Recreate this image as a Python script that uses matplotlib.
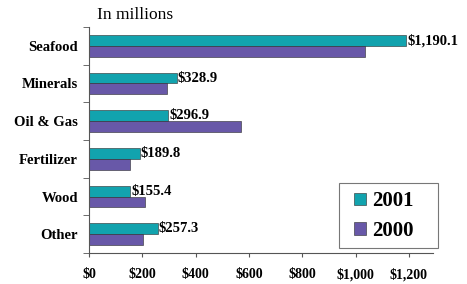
import matplotlib
matplotlib.use("Agg")
import matplotlib.pyplot as plt
from matplotlib.patches import Rectangle
import numpy as np

categories = ["Seafood", "Minerals", "Oil & Gas", "Fertilizer", "Wood", "Other"]
values_2001 = [1190.1, 328.9, 296.9, 189.8, 155.4, 257.3]
values_2000 = [1035, 292, 570, 154, 210, 203]
value_labels = ["$1,190.1", "$328.9", "$296.9", "$189.8", "$155.4", "$257.3"]
xticks = [0, 200, 400, 600, 800, 1000, 1200]
xtick_labels = ["$0", "$200", "$400", "$600", "$800", "$1,000", "$1,200"]

plt.rcParams['font.family'] = ['Liberation Serif', 'DejaVu Serif']

W, H = 467, 284
fig = plt.figure(figsize=(W / 100, H / 100), dpi=100)
ax = fig.add_axes([0.1906, 0.109, 0.927 - 0.1906, 0.905 - 0.109])

teal = "#12A3AE"
purple = "#6858A8"
n = len(categories)
y = np.arange(n)
h = 0.29
ax.barh(y - h / 2, values_2001, height=h, color=teal, edgecolor="#2a2a2a", linewidth=0.4, label="2001")
ax.barh(y + h / 2, values_2000, height=h, color=purple, edgecolor="#2a2a2a", linewidth=0.4, label="2000")

for yi, v, lab in zip(y, values_2001, value_labels):
    ax.text(v + 4, yi - h / 2, lab, va="center", ha="left", fontsize=10.5, fontweight="bold")

ax.set_ylim(n - 0.5, -0.5)
ax.set_xlim(0, 1290)
ax.set_yticks(y)
ax.set_yticklabels(categories, fontsize=10.5, fontweight="bold")
ax.set_yticks(np.arange(-0.5, n, 1), minor=True)
ax.tick_params(axis="y", which="major", length=0, pad=8)
ax.tick_params(axis="y", which="minor", length=4, color="#555555")
ax.set_xticks(xticks)
ax.set_xticklabels(xtick_labels, fontsize=10, fontweight="bold")
ax.tick_params(axis="x", length=3, direction="out", color="#555555", pad=8)

for s in ["top", "right"]:
    ax.spines[s].set_visible(False)
for s in ["left", "bottom"]:
    ax.spines[s].set_color("#555555")
    ax.spines[s].set_linewidth(0.8)

fig.text(97 / W, 1 - 15 / H, "In millions", fontsize=12.5, va="center", ha="left")

# legend box
box = Rectangle((339 / W, 1 - 248 / H), 99 / W, 65 / H, transform=fig.transFigure,
                facecolor="white", edgecolor="#777777", linewidth=0.8, zorder=4, clip_on=False)
ax.add_patch(box)
leg = ax.legend(loc="center", bbox_to_anchor=(384 / W, 1 - 216 / H), bbox_transform=fig.transFigure,
                prop={"weight": "bold", "size": 15}, frameon=False,
                handlelength=0.55, handleheight=0.55, handletextpad=0.3,
                borderpad=0, labelspacing=0.45, borderaxespad=0)
leg.set_zorder(6)

fig.savefig("out.png", dpi=100)
